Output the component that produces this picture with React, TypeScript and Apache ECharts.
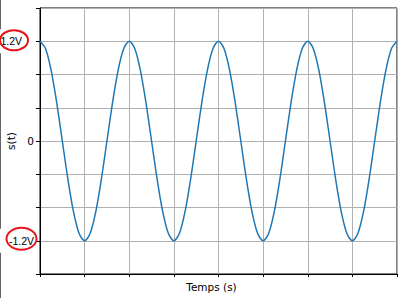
import React, { useEffect, useRef } from "react";
import * as echarts from "echarts";

// Sample step along the time axis (one sample every 1/8 of a grid unit)
const timeStep = 0.125;
// Signal values s(t)
const signal = [
  1.2, 1.11, 0.85, 0.46, 0, -0.46, -0.85, -1.11, -1.2, -1.11, -0.85, -0.46, 0, 0.46, 0.85, 1.11,
  1.2, 1.11, 0.85, 0.46, 0, -0.46, -0.85, -1.11, -1.2, -1.11, -0.85, -0.46, 0, 0.46, 0.85, 1.11,
  1.2, 1.11, 0.85, 0.46, 0, -0.46, -0.85, -1.11, -1.2, -1.11, -0.85, -0.46, 0, 0.46, 0.85, 1.11,
  1.2, 1.11, 0.85, 0.46, 0, -0.46, -0.85, -1.11, -1.2, -1.11, -0.85, -0.46, 0, 0.46, 0.85, 1.11,
  1.2,
];
const xMin = 0;
const xMax = 8;
const yMin = -1.6;
const yMax = 1.6;
const yInterval = 0.4;
const highLabel = "1.2V";
const lowLabel = "-1.2V";
const highValue = 1.2;
const lowValue = -1.2;

export default function App() {
  const ref = useRef<HTMLDivElement>(null);
  useEffect(() => {
    if (!ref.current) return;
    const chart = echarts.init(ref.current, null, { renderer: "svg" });
    const data = signal.map((v, i) => [i * timeStep, v]);
    const font = "DejaVu Sans";
    chart.setOption({
      animation: false,
      backgroundColor: "#ffffff",
      grid: {
        left: 40,
        right: 3,
        top: 8,
        bottom: 24,
        containLabel: false,
        outerBoundsMode: "none",
        show: true,
        borderColor: "#000000",
        borderWidth: 1,
        backgroundColor: "transparent",
      },
      xAxis: {
        type: "value",
        min: xMin,
        max: xMax,
        interval: 1,
        name: "Temps (s)",
        nameLocation: "middle",
        nameGap: 7,
        nameMoveOverlap: false,
        nameTextStyle: { fontFamily: font, fontSize: 10.5, color: "#000", padding: [0, 14, 0, 0] },
        axisLine: { show: true, onZero: false, lineStyle: { color: "#000", width: 1 } },
        axisTick: { show: true, length: 3, lineStyle: { color: "#000" } },
        axisLabel: { show: false },
        splitLine: { show: true, lineStyle: { color: "#b0b0b0", width: 1 } },
      },
      yAxis: {
        type: "value",
        min: yMin,
        max: yMax,
        interval: yInterval,
        name: "s(t)",
        nameLocation: "middle",
        nameGap: 24,
        nameMoveOverlap: false,
        nameTextStyle: { fontFamily: font, fontSize: 10.5, color: "#000" },
        axisLine: { show: true, onZero: false, lineStyle: { color: "#000", width: 1 } },
        axisTick: { show: true, length: 4, lineStyle: { color: "#000" } },
        axisLabel: {
          margin: 6,
          fontFamily: font,
          fontSize: 10.5,
          color: "#000",
          formatter: (v: number) => {
            if (Math.abs(v) < 1e-6) return "0";
            if (Math.abs(v - highValue) < 1e-6) return "{hi|" + highLabel + "}";
            if (Math.abs(v - lowValue) < 1e-6) return "{lo|" + lowLabel + "}";
            return "";
          },
          rich: {
            hi: { fontFamily: "Liberation Sans", fontSize: 10.5, color: "#000", padding: [0, 12, 0, 0] },
            lo: { fontFamily: "Liberation Sans", fontSize: 10.5, color: "#000", padding: [0, 0, 0, 0] },
          },
        },
        splitLine: { show: true, lineStyle: { color: "#b0b0b0", width: 1 } },
      },
      series: [
        {
          type: "line",
          data,
          smooth: 0.3,
          symbol: "none",
          lineStyle: { color: "#1f77b4", width: 1.5 },
        },
      ],
    });
    const hi = chart.convertToPixel({ gridIndex: 0 }, [0, highValue]) as number[];
    const lo = chart.convertToPixel({ gridIndex: 0 }, [0, lowValue]) as number[];
    chart.setOption({
      graphic: [
        { type: "line", shape: { x1: 0.5, y1: 0, x2: 0.5, y2: hi[1] - 12 }, style: { stroke: "#666", lineWidth: 1 } },
        { type: "line", shape: { x1: 0.5, y1: hi[1] + 12, x2: 0.5, y2: lo[1] - 12 }, style: { stroke: "#666", lineWidth: 1 } },
        { type: "line", shape: { x1: 0.5, y1: lo[1] + 12, x2: 0.5, y2: 298 }, style: { stroke: "#666", lineWidth: 1 } },
        {
          type: "ellipse",
          shape: { cx: 14, cy: hi[1] - 1, rx: 14, ry: 10 },
          style: { fill: "none", stroke: "#e8141b", lineWidth: 2 },
          z: 100,
        },
        {
          type: "ellipse",
          shape: { cx: 21.5, cy: lo[1] - 2, rx: 15, ry: 11 },
          style: { fill: "none", stroke: "#e8141b", lineWidth: 2 },
          z: 100,
        },
      ],
    });
    return () => chart.dispose();
  }, []);
  return <div ref={ref} style={{ width: 400, height: 298, position: "absolute", left: 0, top: 0 }} />;
}
